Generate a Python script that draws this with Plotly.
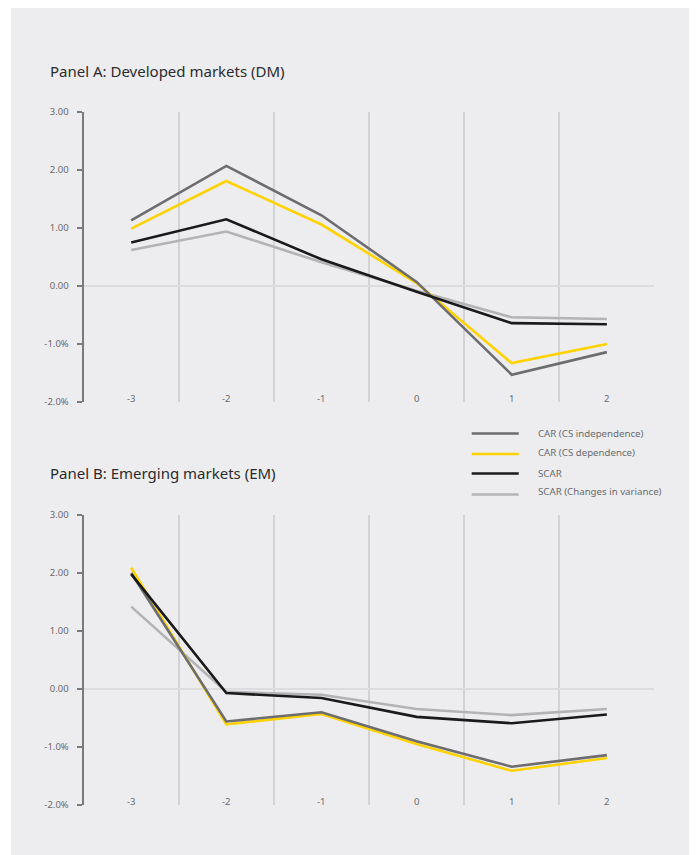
import plotly.graph_objects as go

event_days = [-3, -2, -1, 0, 1, 2]
x_tick_labels = ["-3", "-2", "-1", "0", "1", "2"]
y_tick_vals = [-2, -1, 0, 1, 2, 3]
y_tick_text = ["-2.0%", "-1.0%", "0.00", "1.00", "2.00", "3.00"]
grid_positions = [-2.5, -1.5, -0.5, 0.5, 1.5, 2.5]

series_names = ["CAR (CS independence)", "CAR (CS dependence)", "SCAR", "SCAR (Changes in variance)"]

dm_car_indep = [1.13, 2.07, 1.22, 0.07, -1.53, -1.14]
dm_car_dep = [0.99, 1.81, 1.06, 0.05, -1.33, -1.00]
dm_scar = [0.75, 1.15, 0.46, -0.10, -0.64, -0.66]
dm_scar_var = [0.62, 0.94, 0.41, -0.08, -0.54, -0.57]

em_car_indep = [2.00, -0.56, -0.40, -0.90, -1.34, -1.14]
em_car_dep = [2.09, -0.61, -0.43, -0.95, -1.41, -1.19]
em_scar = [1.98, -0.07, -0.155, -0.48, -0.59, -0.44]
em_scar_var = [1.42, -0.05, -0.10, -0.345, -0.45, -0.345]

colors = ["#6d6d70", "#ffd200", "#1a1a1a", "#b3b3b5"]

W, H = 699, 855
BG = "#ededef"
FONT = "Noto Sans"
TXT = "#6a6a6c"

fig = go.Figure()

panels = [
    ("x", "y", [dm_car_indep, dm_car_dep, dm_scar, dm_scar_var]),
    ("x2", "y2", [em_car_indep, em_car_dep, em_scar, em_scar_var]),
]
draw_order = [3, 1, 0, 2]
for xa, ya, data in panels:
    for i in draw_order:
        fig.add_trace(go.Scatter(
            x=event_days, y=data[i], mode="lines", name=series_names[i],
            line=dict(color=colors[i], width=2.6),
            xaxis=xa, yaxis=ya, showlegend=False, hoverinfo="skip",
        ))

def py(p):
    return 1 - p / H

xdom = [83.5 / W, 653.5 / W]
axis_x = dict(range=[-3.5, 2.5], tickvals=grid_positions, showticklabels=False,
              showgrid=True, gridcolor="#d3d3d6", gridwidth=2, zeroline=False,
              showline=False, ticks="", domain=xdom, fixedrange=True)
axis_y = dict(range=[-2, 3], tickvals=y_tick_vals, ticktext=y_tick_text,
              showgrid=False, zeroline=True, zerolinecolor="#dcdcdf", zerolinewidth=2,
              showline=True, linecolor="#7a7a7c", linewidth=2,
              ticks="outside", ticklen=5, tickwidth=1.5, tickcolor="#7a7a7c",
              tickfont=dict(size=9.5, color=TXT, family=FONT), ticklabelstandoff=6,
              fixedrange=True)

fig.update_layout(
    autosize=True,
    margin=dict(l=0, r=0, t=0, b=0, autoexpand=False),
    paper_bgcolor="white", plot_bgcolor=BG,
    font=dict(family=FONT),
    xaxis=dict(axis_x, anchor="y"),
    yaxis=dict(axis_y, domain=[py(402), py(112)], anchor="x"),
    xaxis2=dict(axis_x, anchor="y2"),
    yaxis2=dict(axis_y, domain=[py(805), py(515)], anchor="x2"),
    showlegend=False,
)

fig.add_shape(type="rect", xref="paper", yref="paper", x0=11 / W, x1=688 / W,
              y0=0, y1=py(8), fillcolor=BG, line=dict(width=0), layer="below")

annotations = []
for xr, yr in [("x", "y"), ("x2", "y2")]:
    for xv, lab in zip(event_days, x_tick_labels):
        annotations.append(dict(x=xv, y=-2, xref=xr, yref=yr, text=lab, showarrow=False,
                                yanchor="middle", yshift=4,
                                font=dict(size=9.5, color=TXT, family=FONT)))
annotations.append(dict(x=48 / W, y=py(71), xref="paper", yref="paper",
                        text="Panel A: Developed markets (DM)", showarrow=False,
                        xanchor="left", yanchor="middle",
                        font=dict(size=15, color="#2b2b2d", family=FONT)))
annotations.append(dict(x=48 / W, y=py(473), xref="paper", yref="paper",
                        text="Panel B: Emerging markets (EM)", showarrow=False,
                        xanchor="left", yanchor="middle",
                        font=dict(size=15, color="#2b2b2d", family=FONT)))

# manual legend
legend_line_y = [433.5, 454, 473.5, 494.5]
legend_text_y = [433, 452.5, 473, 491.5]
for name, col, ly, ty in zip(series_names, colors, legend_line_y, legend_text_y):
    fig.add_shape(type="line", xref="paper", yref="paper", x0=471 / W, x1=518 / W,
                  y0=py(ly), y1=py(ly), line=dict(color=col, width=2.6))
    annotations.append(dict(x=535 / W, y=py(ty), xref="paper", yref="paper", text=name,
                            showarrow=False, xanchor="left", yanchor="middle",
                            font=dict(size=9.7, color=TXT, family=FONT)))
fig.update_layout(annotations=annotations)

fig.write_html("out.html", config={"displayModeBar": False, "responsive": True},
               default_width="100vw", default_height="100vh",
               post_script="document.body.style.margin='0';document.body.style.overflow='hidden';")
